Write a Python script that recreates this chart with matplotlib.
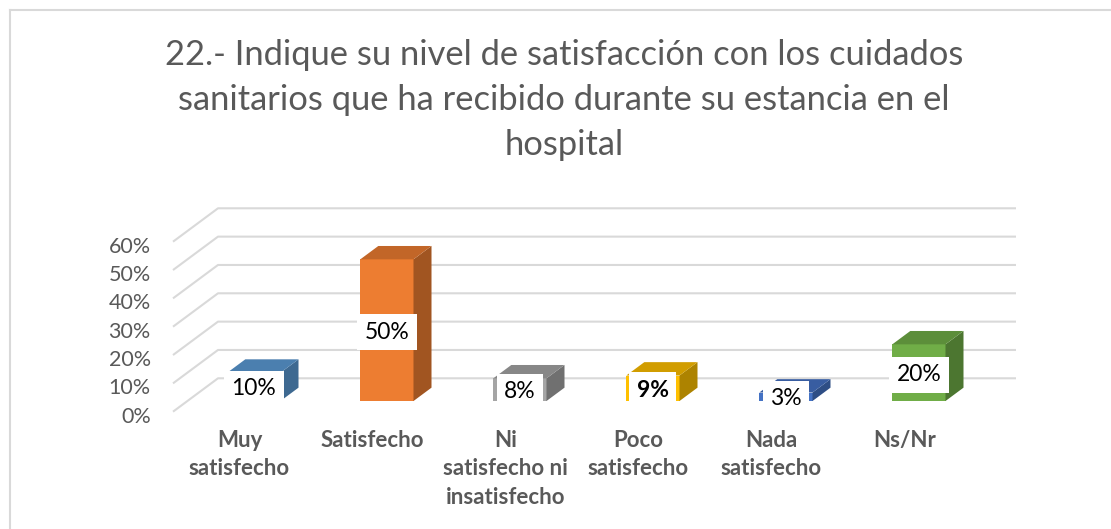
import matplotlib
matplotlib.use("Agg")
import matplotlib.pyplot as plt
from matplotlib.patches import Polygon
from matplotlib.lines import Line2D
from matplotlib.transforms import ScaledTranslation
import matplotlib.colors as mcolors

plt.rcParams['font.family'] = ['Lato', 'DejaVu Sans']

# ---- data ----
categories = ["Muy\nsatisfecho", "Satisfecho", "Ni\nsatisfecho ni\ninsatisfecho",
              "Poco\nsatisfecho", "Nada\nsatisfecho", "Ns/Nr"]
values = [10, 50, 8, 9, 3, 20]
value_labels = ["10%", "50%", "8%", "9%", "3%", "20%"]
label_bold = [False, False, False, True, False, False]
yticks = [0, 10, 20, 30, 40, 50, 60]
ytick_labels = ["0%", "10%", "20%", "30%", "40%", "50%", "60%"]
colors = ["#5B9BD5", "#ED7D31", "#A5A5A5", "#FFC000", "#4472C4", "#70AD47"]
title_lines = ["22.- Indique su nivel de satisfacción con los cuidados",
               "sanitarios que ha recibido durante su estancia en el",
               "hospital"]

W, H = 1111, 529
fig = plt.figure(figsize=(W / 100, H / 100), dpi=100)
fig.patch.set_facecolor("white")

# axes = front plane of the 3D box
ax_l, ax_r = 173, 971
ax_top, ax_bot = 241.7, 411.7
ax = fig.add_axes([ax_l / W, (H - ax_bot) / H, (ax_r - ax_l) / W, (ax_bot - ax_top) / H])
ax.set_xlim(0, len(categories))
ax.set_ylim(0, 60)
ax.patch.set_alpha(0)
for s in ax.spines.values():
    s.set_visible(False)

# depth offsets (data units)
DX = 45 / 133.0
DY = 33.4 / (170 / 60)
grid_c = "#D9D9D9"

# gridlines: left diagonal + back wall line
n = len(categories)
for t in yticks:
    ax.plot([0, DX, n + DX], [t, t + DY, t + DY], color=grid_c, lw=1.5,
            zorder=1, clip_on=False, solid_capstyle="butt")

def shade(c, f):
    r, g, b = mcolors.to_rgb(c)
    return (r * f, g * f, b * f)

z0, z1 = 0.32, 0.72
bw = 0.4
for i, (v, c) in enumerate(zip(values, colors)):
    xc = i + 0.5 + z0 * DX
    b = z0 * DY
    ax.bar(xc, v, width=bw, bottom=b, color=c, zorder=3, clip_on=False, linewidth=0)
    xl, xr = xc - bw / 2, xc + bw / 2
    ddx, ddy = (z1 - z0) * DX, (z1 - z0) * DY
    side = Polygon([(xr, b), (xr, b + v), (xr + ddx, b + v + ddy), (xr + ddx, b + ddy)],
                   closed=True, facecolor=shade(c, 0.68), edgecolor="none", zorder=3, clip_on=False)
    top = Polygon([(xl, b + v), (xr, b + v), (xr + ddx, b + v + ddy), (xl + ddx, b + v + ddy)],
                  closed=True, facecolor=shade(c, 0.82), edgecolor="none", zorder=3, clip_on=False)
    ax.add_patch(side)
    ax.add_patch(top)
    t = ax.text(xc, b + v / 2, value_labels[i], ha="center", va="center", fontsize=16.5,
                fontweight="bold" if label_bold[i] else "normal", color="black", zorder=5,
                bbox=dict(boxstyle="square,pad=0.33", facecolor="white", edgecolor="none"),
                clip_on=False)
    t.set_transform(t.get_transform() + ScaledTranslation(0, -2 / 100, fig.dpi_scale_trans))

# ticks
ax.set_yticks(yticks)
ax.set_yticklabels(ytick_labels, fontsize=15.5, color="#595959")
ax.set_xticks([i + 0.5 for i in range(n)])
ax.set_xticklabels(categories, fontsize=16, fontweight="bold", color="#595959",
                   linespacing=1.45)
ax.tick_params(axis="both", length=0)
ax.tick_params(axis="y", pad=16)
ax.tick_params(axis="x", pad=13)
for lab in ax.get_yticklabels():
    lab.set_transform(lab.get_transform() + ScaledTranslation(0, -3 / 100, fig.dpi_scale_trans))

# title
for k, line in enumerate(title_lines):
    fig.text(564 / W, 1 - (55 + 45 * k) / H, line, ha="center", va="center", fontsize=24.8,
             color="#595959")

# chart border (top and left visible)
fig.add_artist(Line2D([10 / W, 1], [1 - 10 / H, 1 - 10 / H], color=grid_c, lw=1.5))
fig.add_artist(Line2D([10 / W, 10 / W], [0, 1 - 10 / H], color=grid_c, lw=1.5))

fig.savefig("out.png", dpi=100, facecolor="white")
